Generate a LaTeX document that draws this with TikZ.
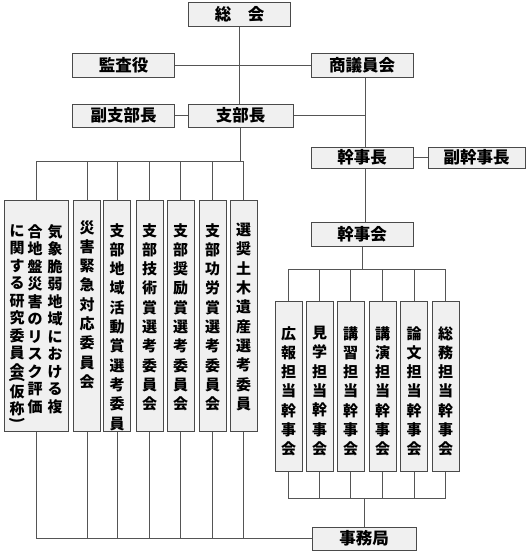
\documentclass[tikz,border=0pt]{standalone}
\usepackage{fontspec}
\usepackage{graphicx}
\setmainfont{Noto Sans CJK JP}
\definecolor{boxfill}{HTML}{F0F0F0}
\definecolor{boxline}{HTML}{4A4A4A}
\definecolor{wirecol}{HTML}{555555}
\newcommand{\tatepar}[1]{\raisebox{8pt}{\rotatebox{-90}{#1}}}

\begin{document}
\begin{tikzpicture}[x=1pt,y=-1pt,
		hbox/.style={draw=boxline, fill=boxfill, line width=1pt, inner sep=0pt, minimum width=102pt, minimum height=24pt, font=\fontsize{16.5}{18}\selectfont\bfseries},
		vbox/.style={draw=boxline, fill=boxfill, line width=1pt, inner sep=0pt, minimum width=27pt, anchor=north},
		vtext/.style={anchor=north, inner sep=0pt, align=center, font=\fontsize{15}{19.3}\selectfont\bfseries},
		ktext/.style={anchor=north, inner sep=0pt, align=center, font=\fontsize{15}{17.5}\selectfont\bfseries},
		wire/.style={draw=wirecol, line width=0.8pt}]
			\useasboundingbox (0,0) rectangle (530,560);
			\node [hbox] (soukai) at (239.5,14.5) {総　会};
			\node [hbox] (kansa) at (123.5,65) {監査役};
			\node [hbox] (shogi) at (362,65) {商議員会};
			\node [hbox, minimum height=23pt] (fukushibu) at (123.5,115.5) {副支部長};
			\node [hbox, minimum width=105pt, minimum height=23pt] (shibu) at (240.5,115.5) {支部長};
			\node [hbox, minimum height=21pt] (kanjicho) at (362,157.5) {幹事長};
			\node [hbox, minimum width=97pt, minimum height=21pt] (fukukanji) at (476.5,157.5) {副幹事長};
			\node [hbox] (kanjikai) at (362,234) {幹事会};
			\node [hbox, minimum width=104pt, minimum height=23pt] (jimu) at (364,538.5) {事務局};
			\node [vbox, minimum width=64pt, minimum height=231pt] (kisho) at (36,200) {};
			\node [vbox, minimum height=231pt] (saigai) at (87,200) {};
			\node [vbox, minimum height=231pt] (chiiki) at (117,200) {};
			\node [vbox, minimum height=231pt] (gijutsu) at (149.5,200) {};
			\node [vbox, minimum height=231pt] (shorei) at (180.5,200) {};
			\node [vbox, minimum height=231pt] (korou) at (212.5,200) {};
			\node [vbox, minimum height=231pt] (isan) at (243.5,200) {};
			\node [vbox, minimum height=170pt] (kouhou) at (288.5,301) {};
			\node [vbox, minimum height=170pt] (kengaku) at (319.5,301) {};
			\node [vbox, minimum height=170pt] (koushu) at (350.5,301) {};
			\node [vbox, minimum height=170pt] (kouen) at (382.5,301) {};
			\node [vbox, minimum height=170pt] (ronbun) at (414,301) {};
			\node [vbox, minimum height=170pt] (soumu) at (445.5,301) {};
			\node [ktext] (kishoA) at ([xshift=19pt,yshift=-24pt]kisho.north) {気\\象\\脆\\弱\\地\\域\\に\\お\\け\\る\\複};
			\node [ktext] (kishoB) at ([xshift=-1pt,yshift=-24pt]kisho.north) {合\\地\\盤\\災\\害\\の\\リ\\ス\\ク\\評\\価};
			\node [ktext] (kishoC) at ([xshift=-19pt,yshift=-24pt]kisho.north) {に\\関\\す\\る\\研\\究\\委\\員\\会\\[-9pt]\tatepar{(}\\[-5pt]仮\\称\\[-7pt]\tatepar{)}};
			\node [vtext] (saigaiT) at ([yshift=-20pt]saigai.north) {災\\害\\緊\\急\\対\\応\\委\\員\\会};
			\node [vtext] (chiikiT) at ([yshift=-23pt]chiiki.north) {支\\部\\地\\域\\活\\動\\賞\\選\\考\\委\\員};
			\node [vtext] (gijutsuT) at ([yshift=-23pt]gijutsu.north) {支\\部\\技\\術\\賞\\選\\考\\委\\員\\会};
			\node [vtext] (shoreiT) at ([yshift=-23pt]shorei.north) {支\\部\\奨\\励\\賞\\選\\考\\委\\員\\会};
			\node [vtext] (korouT) at ([yshift=-23pt]korou.north) {支\\部\\功\\労\\賞\\選\\考\\委\\員\\会};
			\node [vtext] (isanT) at ([yshift=-23pt]isan.north) {選\\奨\\土\\木\\遺\\産\\選\\考\\委\\員};
			\node [vtext] (kouhouT) at ([yshift=-25pt]kouhou.north) {広\\報\\担\\当\\幹\\事\\会};
			\node [vtext] (kengakuT) at ([yshift=-25pt]kengaku.north) {見\\学\\担\\当\\幹\\事\\会};
			\node [vtext] (koushuT) at ([yshift=-25pt]koushu.north) {講\\習\\担\\当\\幹\\事\\会};
			\node [vtext] (kouenT) at ([yshift=-25pt]kouen.north) {講\\演\\担\\当\\幹\\事\\会};
			\node [vtext] (ronbunT) at ([yshift=-25pt]ronbun.north) {論\\文\\担\\当\\幹\\事\\会};
			\node [vtext] (soumuT) at ([yshift=-25pt]soumu.north) {総\\務\\担\\当\\幹\\事\\会};
			\coordinate (rjoin) at (365,115.5);
			\coordinate (ltop) at (0,161);
			\coordinate (rtop) at (0,269);
			\coordinate (rbot) at (0,498);
			\draw [wire] (soukai.south) -- (soukai.south |- shibu.north);
			\draw [wire] (kansa.east) -- (shogi.west);
			\draw [wire] (fukushibu.east) -- (shibu.west);
			\draw [wire] (shibu.east) -- (rjoin);
			\draw [wire] (shogi.south -| rjoin) -- (kanjicho.north -| rjoin);
			\draw [wire] (kanjicho.east) -- (fukukanji.west);
			\draw [wire] (kanjicho.south -| rjoin) -- (kanjikai.north -| rjoin);
			\draw [wire] (shibu.south) -- (shibu.south |- ltop);
			\draw [wire] (kisho.north) -- (kisho.north |- ltop) -| (isan.north);
			\draw [wire] (saigai.north) -- (saigai.north |- ltop);
			\draw [wire] (chiiki.north) -- (chiiki.north |- ltop);
			\draw [wire] (gijutsu.north) -- (gijutsu.north |- ltop);
			\draw [wire] (shorei.north) -- (shorei.north |- ltop);
			\draw [wire] (korou.north) -- (korou.north |- ltop);
			\draw [wire] (kisho.south) |- (jimu.west);
			\draw [wire] (saigai.south) -- (saigai.south |- jimu.west);
			\draw [wire] (chiiki.south) -- (chiiki.south |- jimu.west);
			\draw [wire] (gijutsu.south) -- (gijutsu.south |- jimu.west);
			\draw [wire] (shorei.south) -- (shorei.south |- jimu.west);
			\draw [wire] (korou.south) -- (korou.south |- jimu.west);
			\draw [wire] (isan.south) -- (isan.south |- jimu.west);
			\draw [wire] (kanjikai.south) -- (kanjikai.south |- rtop);
			\draw [wire] (kouhou.north) -- (kouhou.north |- rtop) -| (soumu.north);
			\draw [wire] (kengaku.north) -- (kengaku.north |- rtop);
			\draw [wire] (koushu.north) -- (koushu.north |- rtop);
			\draw [wire] (kouen.north) -- (kouen.north |- rtop);
			\draw [wire] (ronbun.north) -- (ronbun.north |- rtop);
			\draw [wire] (kouhou.south) -- (kouhou.south |- rbot) -| (soumu.south);
			\draw [wire] (kengaku.south) -- (kengaku.south |- rbot);
			\draw [wire] (koushu.south) -- (koushu.south |- rbot);
			\draw [wire] (kouen.south) -- (kouen.south |- rbot);
			\draw [wire] (ronbun.south) -- (ronbun.south |- rbot);
			\draw [wire] (jimu.north |- rbot) -- (jimu.north);
		\end{tikzpicture}
\end{document}
